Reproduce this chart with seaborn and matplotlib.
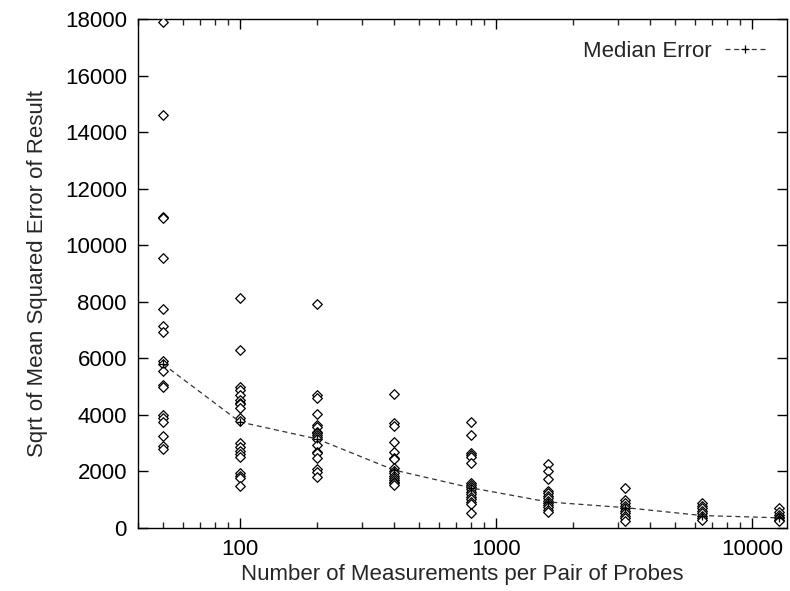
import matplotlib
matplotlib.use("Agg")
import matplotlib.pyplot as plt
import matplotlib.ticker as mticker
import seaborn as sns
import pandas as pd
import numpy as np

# ---- data ----
measurements = [50, 100, 200, 400, 800, 1600, 3200, 6400, 12800]

err_50 = [17900, 14600, 11000, 10950, 9550, 7740, 7140, 6930, 5900, 5800,
          5550, 5050, 5000, 4000, 3900, 3750, 3250, 2900, 2800]
err_100 = [8130, 6300, 5000, 4880, 4700, 4525, 4430, 4385, 4230, 3880,
           3795, 3000, 2875, 2735, 2615, 2500, 1935, 1840, 1755, 1485]
err_200 = [7920, 4700, 4585, 4020, 3640, 3580, 3405, 3350, 3290, 3230,
           3135, 2935, 2700, 2640, 2465, 2075, 1990, 1815]
err_400 = [4740, 3700, 3605, 3030, 2700, 2490, 2430, 2110, 2025, 1935,
           1850, 1775, 1700, 1640, 1580, 1520]
err_800 = [3740, 3290, 2665, 2580, 2500, 2310, 1580, 1520, 1460, 1380,
           1285, 1200, 1105, 1015, 930, 850, 540]
err_1600 = [2250, 2025, 1730, 1320, 1225, 1140, 1050, 965, 895, 815,
            730, 635, 555]
err_3200 = [1400, 990, 875, 780, 695, 610, 520, 425, 345, 260]
err_6400 = [880, 780, 700, 600, 520, 440, 360, 280]
err_12800 = [700, 560, 470, 400, 340, 290, 240]

median_error = [5800, 3750, 3150, 2050, 1420, 920, 720, 440, 360]

all_errs = [err_50, err_100, err_200, err_400, err_800, err_1600,
            err_3200, err_6400, err_12800]

points = pd.DataFrame({
    "n": np.concatenate([[m] * len(e) for m, e in zip(measurements, all_errs)]),
    "err": np.concatenate(all_errs),
})
medians = pd.DataFrame({"n": measurements, "err": median_error,
                        "label": "Median Error"})

# ---- style ----
sns.set_style("ticks")
plt.rcParams["font.family"] = ["Liberation Sans", "DejaVu Sans"]
FS = 16
plt.rcParams["font.size"] = FS

fig = plt.figure(figsize=(7.9, 5.91), dpi=100)
ax = fig.add_axes([0.1747, 0.1066, 0.8215, 0.8613])

sns.scatterplot(data=points, x="n", y="err", ax=ax, marker="D", s=24,
                facecolor="white", edgecolor="black", linewidth=0.9,
                legend=False, zorder=3)
sns.lineplot(data=medians, x="n", y="err", ax=ax, color="#333333",
             linewidth=0.9, linestyle=(0, (4, 3)), marker="+",
             markersize=6, markeredgewidth=0.9, markeredgecolor="black",
             label="Median Error", zorder=4)

ax.set_xscale("log")
ax.set_xlim(40, 13700)
ax.set_ylim(0, 18000)
ax.set_yticks(np.arange(0, 18001, 2000))
ax.xaxis.set_major_locator(mticker.FixedLocator([100, 1000, 10000]))
ax.xaxis.set_major_formatter(mticker.FixedFormatter(["100", "1000", "10000"]))
ax.xaxis.set_minor_locator(mticker.LogLocator(base=10, subs=np.arange(2, 10)))
ax.xaxis.set_minor_formatter(mticker.NullFormatter())

ax.tick_params(axis="both", which="major", direction="in", length=7,
               width=1, top=True, right=True, labelsize=FS, pad=8,
               colors="black")
ax.tick_params(axis="both", which="minor", direction="in", length=4,
               width=1, top=True, right=True)
for sp in ax.spines.values():
    sp.set_visible(True)
    sp.set_linewidth(1)
    sp.set_color("black")

ax.set_xlabel("Number of Measurements per Pair of Probes", fontsize=FS,
              labelpad=3)
ax.set_ylabel("Sqrt of Mean Squared Error of Result", fontsize=FS,
              labelpad=12)

leg = ax.legend(loc="upper right", frameon=False, markerfirst=False,
                fontsize=FS, handlelength=1.8, handletextpad=0.6,
                borderaxespad=0.6)

fig.savefig("out.png", dpi=100)
